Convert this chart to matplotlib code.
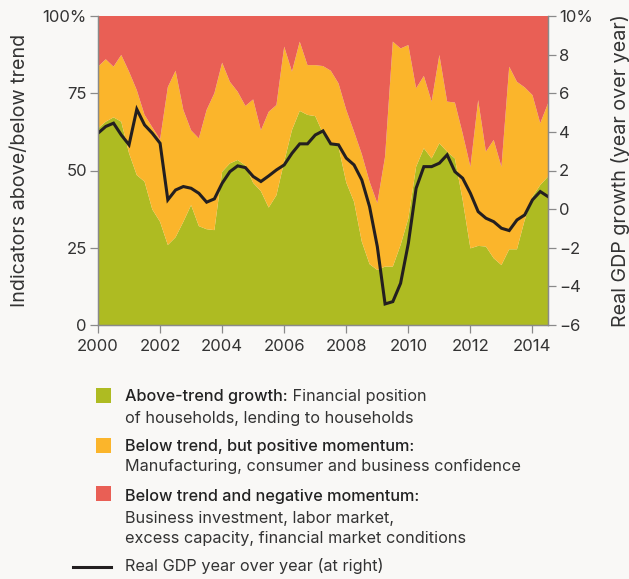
import matplotlib
matplotlib.use("Agg")
import matplotlib.pyplot as plt
from matplotlib.patches import Rectangle
from matplotlib.lines import Line2D

# ---------------- data (quarterly, 2000Q1 .. 2014Q3) ----------------
quarters = [2000 + q / 4 for q in range(59)]

above_trend = [63.6, 65.8, 67.2, 65.8, 55.6, 48.5, 46.4, 37.4, 33.4, 25.9,
               28.4, 33.4, 38.8, 32.0, 31.0, 30.7, 49.6, 52.3, 53.4, 51.6,
               46.0, 43.3, 38.0, 42.0, 52.9, 63.1, 69.3, 68.0, 67.6, 62.0,
               59.1, 57.7, 46.1, 39.9, 27.0, 19.7, 17.8, 18.9, 18.9, 25.9,
               34.5, 51.2, 57.2, 53.9, 58.8, 56.1, 53.9, 40.5, 24.8, 25.6,
               25.4, 21.6, 19.4, 24.5, 24.5, 34.0, 41.5, 45.3, 48.0]

below_positive = [20.0, 20.2, 16.4, 21.6, 26.4, 27.5, 21.6, 26.6, 26.6, 51.1,
                  53.9, 36.2, 24.2, 28.4, 38.6, 44.3, 35.3, 26.4, 22.1, 19.3,
                  27.0, 19.7, 31.0, 29.2, 37.2, 18.9, 22.4, 16.1, 16.5, 21.8,
                  23.2, 20.5, 23.5, 22.7, 28.3, 26.7, 21.6, 35.6, 72.8, 63.6,
                  56.1, 25.4, 23.4, 18.4, 28.6, 16.2, 18.1, 21.5, 26.4, 47.2,
                  30.7, 38.3, 31.8, 59.1, 54.2, 42.9, 32.9, 20.0, 23.7]

below_negative = [16.4, 14.0, 16.4, 12.6, 18.0, 24.0, 32.0, 36.0, 40.0, 23.0,
                  17.7, 30.4, 37.0, 39.6, 30.4, 25.0, 15.1, 21.3, 24.5, 29.1,
                  27.0, 37.0, 31.0, 28.8, 9.9, 18.0, 8.3, 15.9, 15.9, 16.2,
                  17.7, 21.8, 30.4, 37.4, 44.7, 53.6, 60.6, 45.5, 8.3, 10.5,
                  9.4, 23.4, 19.4, 27.7, 12.6, 27.7, 28.0, 38.0, 48.8, 27.2,
                  43.9, 40.1, 48.8, 16.4, 21.3, 23.1, 25.6, 34.7, 28.3]

gdp_yoy = [3.93, 4.28, 4.45, 3.84, 3.33, 5.17, 4.36, 3.93, 3.41, 0.48,
           0.99, 1.17, 1.08, 0.82, 0.36, 0.53, 1.34, 1.94, 2.24, 2.15,
           1.69, 1.43, 1.72, 2.03, 2.29, 2.89, 3.38, 3.38, 3.84, 4.05,
           3.38, 3.33, 2.64, 2.29, 1.51, 0.13, -1.94, -4.91, -4.79, -3.84,
           -1.77, 1.08, 2.20, 2.20, 2.38, 2.81, 1.94, 1.60, 0.82, -0.13,
           -0.47, -0.65, -0.99, -1.11, -0.56, -0.30, 0.48, 0.91, 0.65]

x_ticks = [2000, 2002, 2004, 2006, 2008, 2010, 2012, 2014]
left_ticks = [0, 25, 50, 75, 100]
left_labels = ["0", "25", "50", "75", "100%"]
right_ticks = [-6, -4, -2, 0, 2, 4, 6, 8, 10]
right_labels = ["\u22126", "\u22124", "\u22122", "0", "2", "4", "6", "8", "10%"]

legend_items = [
    ("Above-trend growth:", " Financial position", ["of households, lending to households"]),
    ("Below trend, but positive momentum:", "", ["Manufacturing, consumer and business confidence"]),
    ("Below trend and negative momentum:", "", ["Business investment, labor market,",
                                                 "excess capacity, financial market conditions"]),
]
gdp_label = "Real GDP year over year (at right)"
left_axis_title = "Indicators above/below trend"
right_axis_title = "Real GDP growth (year over year)"

# ---------------- style ----------------
GREEN = "#aebb22"
YELLOW = "#fbb52b"
RED = "#e95f55"
BG = "#f9f8f6"
TXT = "#333333"
AX = "#8a8a8a"
FONT = "Inter"

plt.rcParams["font.family"] = [FONT, "DejaVu Sans"]

W, H = 629, 579
fig = plt.figure(figsize=(W / 100, H / 100), dpi=100, facecolor=BG)

def fx(px):
    return px / W

def fy(py):
    return 1 - py / H

TICK_FS = 12
TITLE_FS = 14.2
LEG_FS = 11.7

ax = fig.add_axes([fx(98), fy(325), fx(548) - fx(98), fy(16) - fy(325)])
ax.set_facecolor(BG)
ax.stackplot(quarters, above_trend, below_positive, below_negative,
             colors=[GREEN, YELLOW, RED], linewidth=0)
ax.set_xlim(quarters[0], quarters[-1])
ax.set_ylim(0, 100)
ax.set_yticks(left_ticks)
ax.set_yticklabels(left_labels)
ax.set_xticks(x_ticks)
ax.set_xticklabels([str(t) for t in x_ticks])
ax.tick_params(axis="both", colors=AX, labelcolor=TXT, labelsize=TICK_FS,
               length=6, width=0.9, direction="out")
ax.tick_params(axis="y", pad=2)
ax.tick_params(axis="x", pad=4)

ax2 = ax.twinx()
ax2.plot(quarters, gdp_yoy, color="#231f20", linewidth=2.2, solid_joinstyle="miter")
ax2.set_ylim(-6, 10)
ax2.set_yticks(right_ticks)
ax2.set_yticklabels(right_labels)
ax2.tick_params(axis="y", colors=AX, labelcolor=TXT, labelsize=TICK_FS,
                length=6, width=0.9, direction="out", pad=2)

for a in (ax, ax2):
    a.spines["top"].set_visible(False)
    for s in ("left", "right", "bottom"):
        a.spines[s].set_color(AX)
        a.spines[s].set_linewidth(0.9)

fig.text(fx(20), fy(170), left_axis_title, rotation=90, ha="center", va="center",
         fontsize=TITLE_FS, color=TXT)
fig.text(fx(621), fy(171), right_axis_title, rotation=90, ha="center", va="center",
         fontsize=TITLE_FS, color=TXT)

# ---------------- legend (drawn below the chart) ----------------
renderer = fig.canvas.get_renderer()
square_colors = [GREEN, YELLOW, RED]
rows_y = [[396, 418], [447, 467], [497, 518, 539]]
square_y = [388, 438, 486]
text_x = 125

for (head, tail, lines), col, ys, sy in zip(legend_items, square_colors, rows_y, square_y):
    fig.patches.append(Rectangle((fx(96), fy(sy + 15)), fx(15), fy(sy) - fy(sy + 15),
                                 transform=fig.transFigure, facecolor=col,
                                 edgecolor="none"))
    t = fig.text(fx(text_x), fy(ys[0]), head, fontsize=LEG_FS, fontweight="medium",
                 color="#222222", va="center", ha="left")
    if tail:
        bb = t.get_window_extent(renderer=renderer)
        fig.text(bb.x1 / W, fy(ys[0]), tail, fontsize=LEG_FS, color=TXT,
                 va="center", ha="left")
    for line, y in zip(lines, ys[1:]):
        fig.text(fx(text_x), fy(y), line, fontsize=LEG_FS, color=TXT,
                 va="center", ha="left")

fig.lines.append(Line2D([fx(73), fx(111)], [fy(567), fy(567)],
                        transform=fig.transFigure, color="#231f20", linewidth=2.2))
fig.text(fx(text_x), fy(566), gdp_label, fontsize=LEG_FS, color=TXT,
         va="center", ha="left")

fig.savefig("out.png", dpi=100, facecolor=BG)
